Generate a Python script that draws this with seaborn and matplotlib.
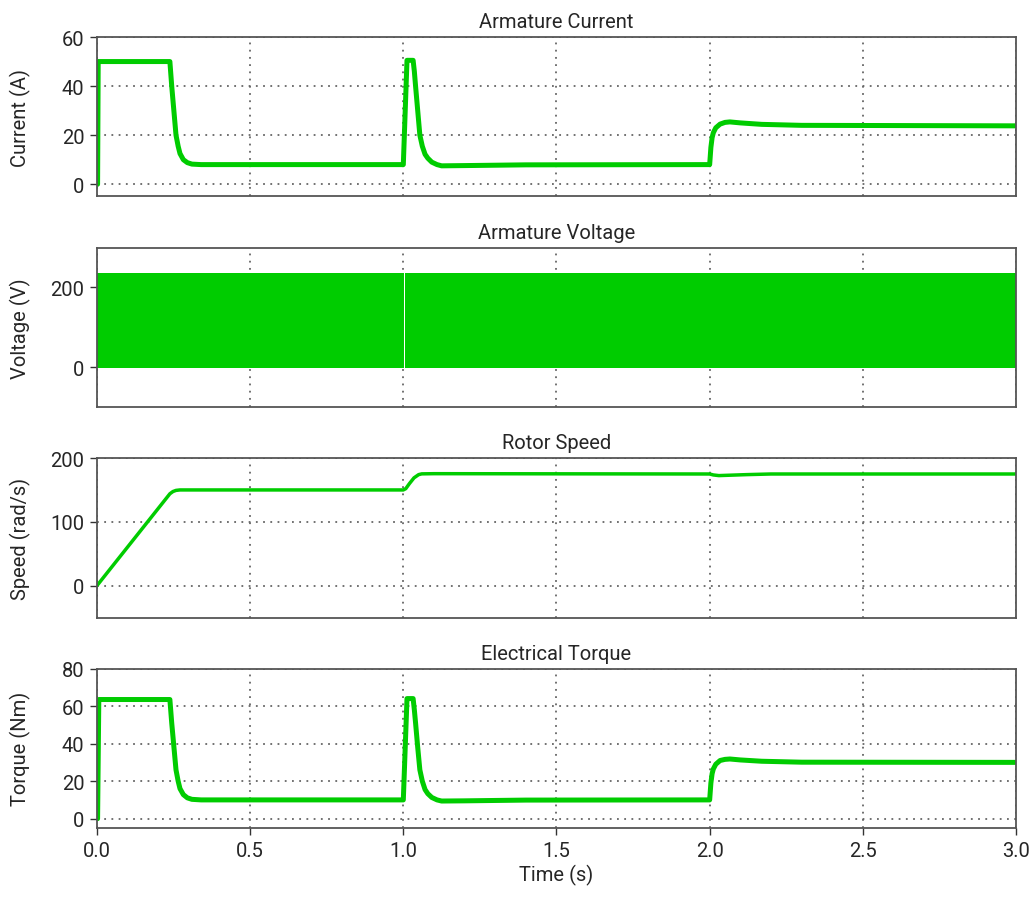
import numpy as np
import pandas as pd
import matplotlib
matplotlib.use("Agg")
import matplotlib.pyplot as plt
from matplotlib import font_manager
import seaborn as sns

# Armature current (A) - key points
cur_t = [0.0, 0.002, 0.004, 0.238, 0.244, 0.258, 0.265, 0.271, 0.282, 0.295, 0.31, 0.34, 0.4,
         1.0, 1.012, 1.032, 1.036, 1.04, 1.047, 1.054, 1.062, 1.071, 1.08, 1.093, 1.11, 1.125,
         1.2, 1.4, 2.0, 2.004, 2.008, 2.012, 2.02, 2.034, 2.05, 2.066, 2.1, 2.17, 2.3, 3.0]
cur_v = [0, 0, 50, 50, 40, 20, 15.5, 12.5, 10, 8.8, 8.2, 8, 8,
         8, 50.5, 50.5, 46, 40, 30, 20, 15.5, 12.2, 10.6, 9, 8, 7.5,
         7.6, 7.9, 8, 15, 19, 21, 23, 24.5, 25.2, 25.4, 25, 24.4, 24, 23.8]

# Armature voltage (V) - PWM band, min/max envelope
volt_t1 = [0.0, 1.003]
volt_t2 = [1.007, 3.0]
volt_lo = [-1, -1]
volt_hi = [236, 236]

# Rotor speed (rad/s)
spd_t = [0.0, 0.238, 0.248, 0.258, 0.271, 0.3, 1.0, 1.008, 1.02, 1.035, 1.05, 1.06, 1.1,
         2.0, 2.012, 2.03, 2.06, 2.12, 2.2, 3.0]
spd_v = [0, 144, 147.5, 149.3, 150, 150, 150, 152, 160, 169, 174, 175.2, 175.5,
         175, 173.5, 172.5, 173, 174, 175, 175]

# Electrical torque (Nm)
trq_t = [0.0, 0.002, 0.006, 0.238, 0.244, 0.258, 0.265, 0.271, 0.282, 0.295, 0.31, 0.34, 0.4,
         1.0, 1.012, 1.032, 1.036, 1.04, 1.047, 1.054, 1.062, 1.071, 1.08, 1.093, 1.11, 1.125,
         1.2, 1.4, 2.0, 2.004, 2.008, 2.012, 2.02, 2.034, 2.05, 2.066, 2.1, 2.17, 2.3, 3.0]
trq_v = [0, 0, 63.5, 63.5, 51, 26, 20, 16, 12.8, 11.1, 10.3, 10, 10,
         10, 64, 64, 58, 51, 38, 26, 20, 15.5, 13.3, 11.3, 10, 9.4,
         9.5, 9.9, 10, 19, 24, 26.5, 29, 31, 31.6, 31.8, 31.3, 30.6, 30.1, 30]

titles = ["Armature Current", "Armature Voltage", "Rotor Speed", "Electrical Torque"]
ylabels = ["Current (A)", "Voltage (V)", "Speed (rad/s)", "Torque (Nm)"]
ylims = [(-5, 60), (-100, 300), (-50, 200), (-5, 80)]
yticks = [[0, 20, 40, 60], [0, 200], [0, 100, 200], [0, 20, 40, 60, 80]]

green = "#00cc00"

sns.set_style("white")
installed = {f.name for f in font_manager.fontManager.ttflist}
if "Liberation Sans Narrow" in installed:
    plt.rcParams["font.family"] = ["Liberation Sans Narrow", "DejaVu Sans"]
    fs = 16
else:
    plt.rcParams["font.family"] = ["Roboto", "DejaVu Sans"]
    fs = 14.5

fig, axes = plt.subplots(4, 1, figsize=(10.36, 9.03), dpi=100, sharex=True)
fig.subplots_adjust(left=0.0936, right=0.9807, top=0.9579, bottom=0.0819, hspace=0.32)

sns.lineplot(x=cur_t, y=cur_v, ax=axes[0], color=green, lw=3.6)
axes[1].fill_between(volt_t1, volt_lo, volt_hi, color=green, lw=0)
axes[1].fill_between(volt_t2, volt_lo, volt_hi, color=green, lw=0)
sns.lineplot(x=spd_t, y=spd_v, ax=axes[2], color=green, lw=2.5)
sns.lineplot(x=trq_t, y=trq_v, ax=axes[3], color=green, lw=3.6)

for i, ax in enumerate(axes):
    ax.set_xlim(0, 3)
    ax.set_ylim(*ylims[i])
    ax.set_yticks(yticks[i])
    ax.set_xticks(np.arange(0, 3.01, 0.5))
    ax.set_title(titles[i], fontsize=fs, pad=7)
    ax.set_ylabel(ylabels[i], fontsize=fs)
    ax.yaxis.set_label_coords(-0.072, 0.5)
    ax.grid(True, ls=(0, (1, 3)), color="#666666", lw=1.3)
    ax.set_axisbelow(True)
    for s in ax.spines.values():
        s.set_color("#555555")
        s.set_linewidth(1.3)
    ax.tick_params(axis="both", direction="out", length=5, width=1, color="#333333",
                   labelsize=fs, left=True, bottom=(i == 3), pad=4)

axes[3].set_xticklabels([f"{v:.1f}" for v in np.arange(0, 3.01, 0.5)])
axes[3].set_xlabel("Time (s)", fontsize=fs, labelpad=3)

fig.savefig("out.png", dpi=100)
